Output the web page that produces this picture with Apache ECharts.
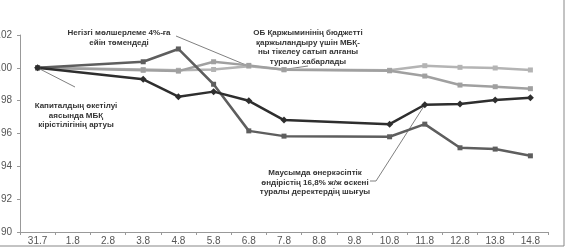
<!DOCTYPE html>
<html>
<head>
<meta charset="utf-8">
<script src="https://cdn.jsdelivr.net/npm/echarts@6/dist/echarts.min.js"></script>
<style>
  html, body { margin: 0; padding: 0; background: #fff; }
  #chart { width: 566px; height: 248px; }
</style>
</head>
<body>
<div id="chart"></div>
<script>
  // dates (days without trading are null)
  var categories = ['31.7', '1.8', '2.8', '3.8', '4.8', '5.8', '6.8', '7.8', '8.8', '9.8', '10.8', '11.8', '12.8', '13.8', '14.8'];
  var seriesA = [100, null, null, 99.3, 98.24, 98.55, 97.99, 96.82, null, null, 96.57, 97.75, 97.79, 98.04, 98.18];
  var seriesB = [100, null, null, 100.37, 101.15, 99.0, 96.16, 95.84, null, null, 95.8, 96.57, 95.13, 95.05, 94.64];
  var seriesC = [100, null, null, 99.85, 99.8, 100.37, 100.15, 99.88, null, null, 99.82, 99.5, 98.95, 98.85, 98.73];
  var seriesD = [100, null, null, 99.9, 99.85, 99.9, 100.1, 99.9, null, null, 99.85, 100.13, 100.03, 99.99, 99.87];
  var yTicks = { min: 90, max: 102, interval: 2 };

  var notes = [
    { lines: ['Негізгі мөлшерлеме 4%-ға', 'ейін төмендеді'], x: 119, y: 33 },
    { lines: ['ОБ Қаржыминінің бюджетті', 'қаржыландыру үшін МБҚ-', 'ны тікелеу сатып алғаны', 'туралы хабарлады'], x: 308, y: 33 },
    { lines: ['Капиталдың өкетілуі', 'аясында МБҚ', 'кірістілігінің артуы'], x: 76, y: 106 },
    { lines: ['Маусымда өнеркәсіптік', 'өндірістің 16,8% ж/ж өскені', 'туралы деректердің шығуы'], x: 315, y: 173 }
  ];

  var chart = echarts.init(document.getElementById('chart'));

  function line(name, data, color, symbol, size, width) {
    return {
      name: name,
      type: 'line',
      data: data,
      connectNulls: true,
      symbol: symbol,
      symbolSize: size,
      showAllSymbol: true,
      animation: false,
      lineStyle: { color: color, width: width },
      itemStyle: { color: color },
      z: 3
    };
  }

  chart.setOption({
    backgroundColor: '#fff',
    animation: false,
    grid: { left: 20, right: 18, top: 35, bottom: 16, outerBoundsMode: 'none', containLabel: false },
    xAxis: {
      type: 'category',
      data: categories,
      boundaryGap: true,
      axisLine: { lineStyle: { color: '#999', width: 1 } },
      axisTick: { show: true, length: 3, lineStyle: { color: '#999' } },
      axisLabel: { color: '#555', fontSize: 10, margin: 4, fontFamily: 'Liberation Sans' }
    },
    yAxis: {
      type: 'value',
      min: yTicks.min,
      max: yTicks.max,
      interval: yTicks.interval,
      splitLine: { show: false },
      axisLine: { show: true, lineStyle: { color: '#999', width: 1 } },
      axisTick: { show: true, length: 3, lineStyle: { color: '#999' } },
      axisLabel: { color: '#555', fontSize: 10, margin: 8, fontFamily: 'Liberation Sans' }
    },
    series: [
      line('D', seriesD, '#b4b4b4', 'rect', 5, 2.5),
      line('C', seriesC, '#a0a0a0', 'rect', 5, 2.5),
      line('B', seriesB, '#5e5e5e', 'rect', 5, 2.5),
      line('A', seriesA, '#2e2e2e', 'diamond', 7, 2.5)
    ]
  });

  // annotations and leader lines
  var px = function (i, v) { return chart.convertToPixel({ seriesIndex: 0 }, [i, v]); };
  var p0 = px(0, seriesA[0]);
  var p1 = px(6, seriesD[6]);
  var p2 = px(7, seriesD[7]);
  var p3 = px(11, seriesA[11]);
  var lineStyle = { stroke: '#808080', lineWidth: 1 };
  var elements = [
    { type: 'polyline', shape: { points: [p0, [75, 87]] }, style: lineStyle, z: 1 },
    { type: 'polyline', shape: { points: [[176, 36], p1] }, style: lineStyle, z: 1 },
    { type: 'polyline', shape: { points: [[308, 66], p2] }, style: lineStyle, z: 1 },
    { type: 'polyline', shape: { points: [[370, 181], [376, 181], p3] }, style: lineStyle, z: 1 },
    { type: 'line', shape: { x1: 564, y1: 0, x2: 564, y2: 246 }, style: { stroke: '#888', lineWidth: 1 } },
    { type: 'line', shape: { x1: 0, y1: 246, x2: 564, y2: 246 }, style: { stroke: '#888', lineWidth: 1 } }
  ];
  notes.forEach(function (n) {
    n.lines.forEach(function (t, k) {
      elements.push({
        type: 'text',
        x: n.x,
        y: n.y + k * 9.6,
        z: 5,
        style: {
          text: t,
          fill: '#333',
          font: 'bold 8px "Liberation Sans"',
          align: 'center',
          verticalAlign: 'middle'
        }
      });
    });
  });
  chart.setOption({ graphic: elements });
</script>
</body>
</html>
